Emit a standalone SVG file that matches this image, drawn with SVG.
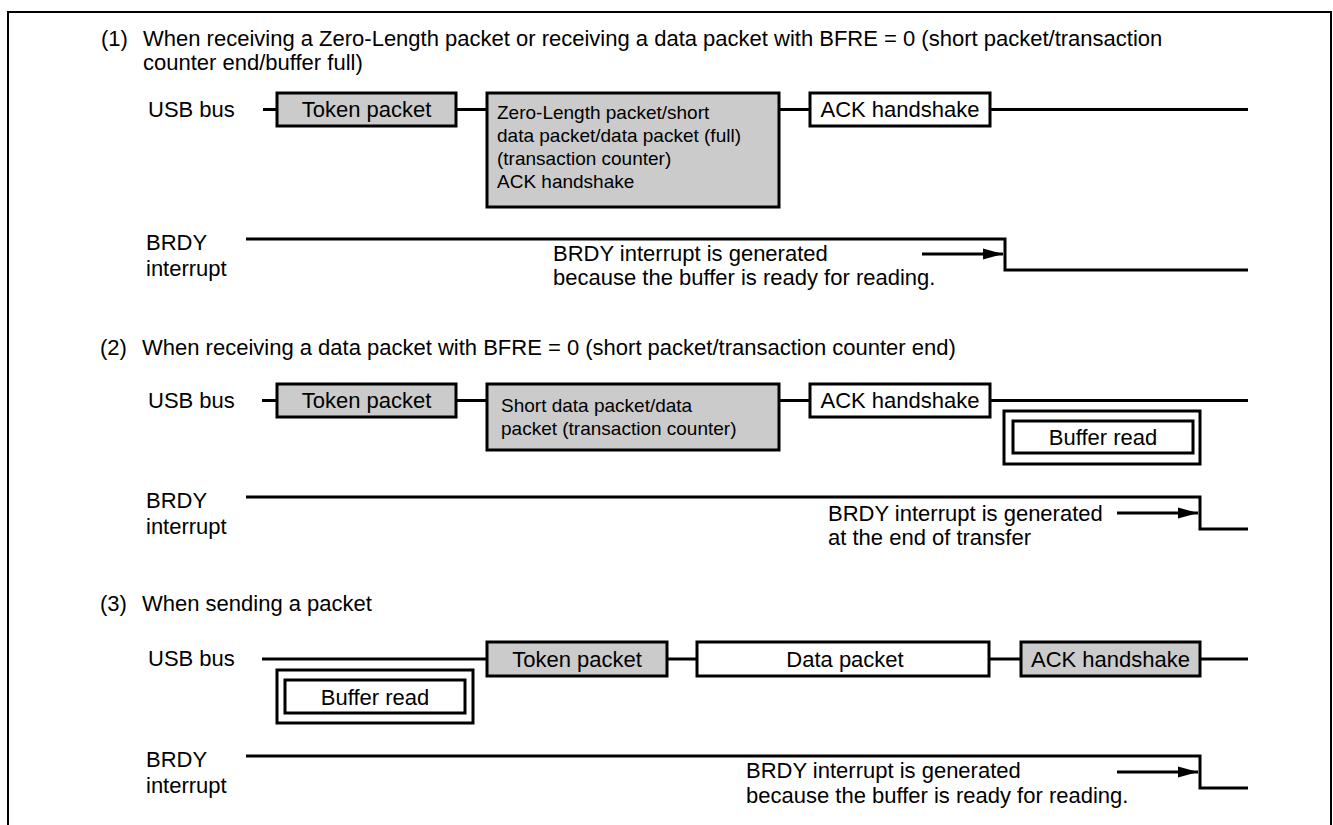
<svg xmlns="http://www.w3.org/2000/svg" width="1333" height="825" viewBox="0 0 1333 825">
<style>
text{font-family:"Liberation Sans",Arial,sans-serif;fill:#000}
.t{font-size:22px}
.s{font-size:19px}
.c{text-anchor:middle}
.box{stroke:#000;stroke-width:3}
.gray{fill:#cbcbcb}
.white{fill:#fff}
.w{fill:none;stroke:#000;stroke-width:3}
.frame{fill:none;stroke:#000;stroke-width:2}
</style>
<defs>
<marker id="ah" markerUnits="userSpaceOnUse" markerWidth="22" markerHeight="14" refX="20" refY="7" orient="auto">
<path d="M0,1.5 L20,7 L0,12.5 Z" fill="#000"/>
</marker>
</defs>
<rect width="1333" height="825" fill="#fff"/>
<path class="frame" d="M8,825 V12 H1331 V825"/>

<!-- Section 1 -->
<g id="title1">
<text class="t" x="101" y="46">(1)</text>
<text class="t" x="143" y="46">When receiving a Zero-Length packet or receiving a data packet with BFRE = 0 (short packet/transaction</text>
<text class="t" x="143" y="70">counter end/buffer full)</text>
</g>
<g id="usb1"><text class="t" x="148" y="117">USB bus</text></g>
<g id="token1"><rect class="box gray" x="277" y="93" width="179" height="33"/><text class="t c" x="366.5" y="117">Token packet</text></g>
<g id="zlp1"><rect class="box gray" x="487" y="93" width="292" height="114"/>
<text class="s" x="497" y="119">Zero-Length packet/short</text>
<text class="s" x="497" y="142">data packet/data packet (full)</text>
<text class="s" x="497" y="165">(transaction counter)</text>
<text class="s" x="497" y="188">ACK handshake</text></g>
<g id="ack1"><rect class="box white" x="810" y="93" width="180" height="33"/><text class="t c" x="900" y="117">ACK handshake</text></g>
<g id="brdy1"><text class="t" x="146" y="250">BRDY</text><text class="t" x="146" y="276">interrupt</text></g>
<g id="msg1"><text class="t" x="553" y="261">BRDY interrupt is generated</text><text class="t" x="553" y="285">because the buffer is ready for reading.</text></g>

<!-- Section 2 -->
<g id="title2">
<text class="t" x="100" y="355">(2)</text>
<text class="t" x="142" y="355">When receiving a data packet with BFRE = 0 (short packet/transaction counter end)</text>
</g>
<g id="usb2"><text class="t" x="148" y="408">USB bus</text></g>
<g id="token2"><rect class="box gray" x="277" y="384" width="179" height="33"/><text class="t c" x="366.5" y="408">Token packet</text></g>
<g id="short2"><rect class="box gray" x="487" y="384" width="292" height="66"/>
<text class="s" x="501" y="412">Short data packet/data</text>
<text class="s" x="501" y="435">packet (transaction counter)</text></g>
<g id="ack2"><rect class="box white" x="810" y="384" width="180" height="33"/><text class="t c" x="900" y="408">ACK handshake</text></g>
<g id="bufread2"><rect class="box white" x="1004" y="411" width="196" height="53"/><rect class="box white" x="1013" y="421" width="180" height="32"/><text class="t c" x="1103" y="445">Buffer read</text></g>
<g id="brdy2"><text class="t" x="146" y="508">BRDY</text><text class="t" x="146" y="534">interrupt</text></g>
<g id="msg2"><text class="t" x="828" y="521">BRDY interrupt is generated</text><text class="t" x="828" y="545">at the end of transfer</text></g>

<!-- Section 3 -->
<g id="title3">
<text class="t" x="100" y="611">(3)</text>
<text class="t" x="142" y="611">When sending a packet</text>
</g>
<g id="usb3"><text class="t" x="148" y="666">USB bus</text></g>
<g id="bufread3"><rect class="box white" x="277" y="670" width="196" height="53"/><rect class="box white" x="285" y="680" width="180" height="33"/><text class="t c" x="375" y="705">Buffer read</text></g>
<g id="token3"><rect class="box gray" x="487" y="642" width="180" height="34"/><text class="t c" x="577" y="667">Token packet</text></g>
<g id="data3"><rect class="box white" x="697" y="642" width="292" height="34"/><text class="t c" x="845" y="667">Data packet</text></g>
<g id="ack3"><rect class="box gray" x="1021" y="642" width="179" height="34"/><text class="t c" x="1110.5" y="667">ACK handshake</text></g>
<g id="brdy3"><text class="t" x="146" y="767">BRDY</text><text class="t" x="146" y="793">interrupt</text></g>
<g id="msg3"><text class="t" x="746" y="778">BRDY interrupt is generated</text><text class="t" x="746" y="803">because the buffer is ready for reading.</text></g>

<g id="connectors">
<path class="w" d="M263,109.5 H277 M456,109.5 H487 M779,109.5 H810 M990,109.5 H1248"/>
<path class="w" d="M246,239 H1005 V270 H1248"/>
<path class="w" d="M922,254 H1003" marker-end="url(#ah)"/>

<path class="w" d="M262,400.5 H277 M456,400.5 H487 M779,400.5 H810 M990,400.5 H1248"/>
<path class="w" d="M246,497 H1200 V529 H1248"/>
<path class="w" d="M1117,513 H1198" marker-end="url(#ah)"/>

<path class="w" d="M262,659 H487 M667,659 H697 M989,659 H1021 M1200,659 H1248"/>
<path class="w" d="M246,756 H1200 V788 H1248"/>
<path class="w" d="M1117,772 H1198" marker-end="url(#ah)"/>
</g>
</svg>
